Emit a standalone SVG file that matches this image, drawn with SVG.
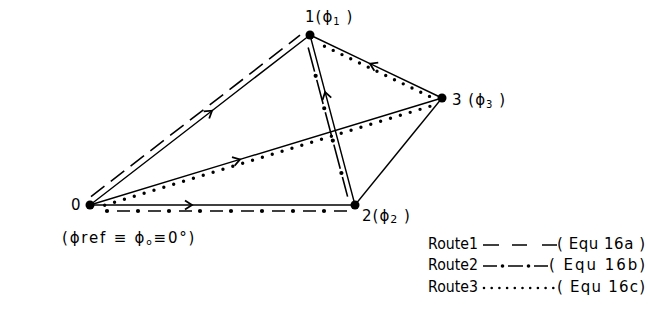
<svg xmlns="http://www.w3.org/2000/svg" width="650" height="322" viewBox="0 0 650 322">
<style>
 .ln{stroke:#000;stroke-width:1.4;fill:none}
 .r1{stroke:#000;stroke-width:1.6;fill:none;stroke-dasharray:17 8}
 .r1b{stroke:#000;stroke-width:1.6;fill:none;stroke-dasharray:25 8.5;stroke-dashoffset:-1.5}
 .r2d{stroke:#000;stroke-width:1.6;fill:none;stroke-dasharray:13 18}
 .r2p{stroke:#000;stroke-width:4.2;stroke-linecap:round;fill:none;stroke-dasharray:0 31}
 .r3{stroke:#000;stroke-width:3.4;stroke-linecap:round;fill:none;stroke-dasharray:0 10.3}
 .node{fill:#000}
 text{font-family:"DejaVu Sans","Liberation Sans",sans-serif;fill:#000}
 .lbl{font-size:15px;letter-spacing:1px}
 .leg{font-size:15px}
</style>
<defs>
 <marker id="chev" markerUnits="userSpaceOnUse" markerWidth="12" markerHeight="12" viewBox="-9 -6 12 12" refX="0" refY="0" orient="auto">
  <path d="M-7,-4.5 L0,0 L-7,4.5" fill="none" stroke="#000" stroke-width="1.8"/>
 </marker>
</defs>
<g id="connectors">
 <path class="ln" d="M90,205 L212,110.7 L310,35" marker-mid="url(#chev)"/>
 <path class="ln" d="M90,205 L240,159.4 L442,98" marker-mid="url(#chev)"/>
 <path class="ln" d="M90,205 L192,205 L355,205" marker-mid="url(#chev)"/>
 <path class="ln" d="M355,205 L325.1,92 L310,35" marker-mid="url(#chev)"/>
 <path class="ln" d="M442,98 L370,63.6 L310,35" marker-mid="url(#chev)"/>
 <path class="ln" d="M355,205 L442,98"/>
 <g id="route1">
  <path class="r1" d="M91,196.6 L300,35.2"/>
  <path class="r1b" d="M307.8,46 L347.6,196.6"/>
 </g>
 <g id="route2">
  <path class="r2p" d="M107,211 L350,211"/>
  <path class="r2d" d="M117,211 L350,211"/>
  <path class="r2p" d="M341.4,173 L314.5,71.5" style="stroke-dasharray:0 33.5"/>
 </g>
 <g id="route3">
  <path class="r3" d="M104.7,205.2 L431,106"/>
  <path class="r3" d="M429.5,96.4 L315.8,42.1" style="stroke-dasharray:0 9.7"/>
 </g>
</g>
<g id="node0">
 <circle class="node" cx="90" cy="205" r="4.5"/>
 <text class="lbl" x="71" y="210">0</text>
</g>
<g id="node1">
 <circle class="node" cx="310" cy="35" r="4.5"/>
 <text class="lbl" x="305" y="22">1(ϕ<tspan font-size="10" dy="3">1</tspan><tspan dy="-3"> )</tspan></text>
</g>
<g id="node2">
 <circle class="node" cx="355" cy="205" r="4.5"/>
 <text class="lbl" x="362" y="221">2(ϕ<tspan font-size="11" dy="2">2</tspan><tspan dy="-2"> )</tspan></text>
</g>
<g id="node3">
 <circle class="node" cx="442" cy="98" r="4.5"/>
 <text class="lbl" x="452" y="105">3 (ϕ<tspan font-size="10" dy="3">3</tspan><tspan dy="-3"> )</tspan></text>
</g>
<g id="reference-note">
 <text class="lbl" x="62" y="243" style="letter-spacing:1.8px">(ϕref ≡ ϕ<tspan font-size="9" dy="2">o</tspan><tspan dy="-2">≡0°)</tspan></text>
</g>
<g id="legend">
 <text class="leg" x="428" y="249" textLength="50" lengthAdjust="spacingAndGlyphs">Route1</text>
 <path class="ln" d="M483,245 H499 M512,245 H527 M542,245 H557"/>
 <text class="leg" x="557" y="249" textLength="88" lengthAdjust="spacing">( Equ 16a )</text>
 <text class="leg" x="428" y="270" textLength="50" lengthAdjust="spacingAndGlyphs">Route2</text>
 <path class="ln" d="M483,266 H497 M508,266 H523 M534,266 H548"/>
 <circle class="node" cx="502.5" cy="266" r="1.8"/>
 <circle class="node" cx="528.5" cy="266" r="1.8"/>
 <text class="leg" x="549" y="270" textLength="96" lengthAdjust="spacing">( Equ 16b)</text>
 <text class="leg" x="428" y="292" textLength="50" lengthAdjust="spacingAndGlyphs">Route3</text>
 <path class="r3" d="M484,288 H554" style="stroke-width:2.6;stroke-dasharray:0 7.7"/>
 <text class="leg" x="557" y="292" textLength="88" lengthAdjust="spacing">( Equ 16c)</text>
</g>
</svg>
